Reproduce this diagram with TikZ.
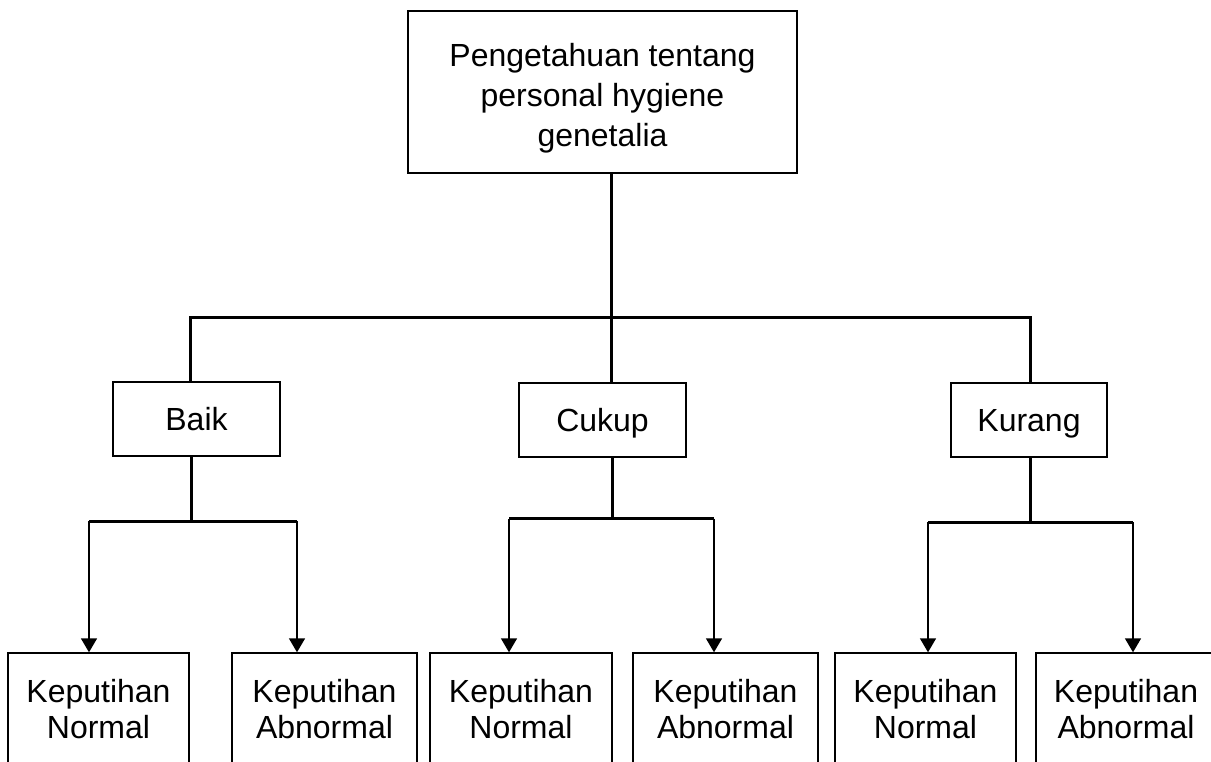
\documentclass[tikz,border=0pt]{standalone}
\usepackage{fontspec}
\setmainfont{Liberation Sans}
\usetikzlibrary{arrows.meta}
\begin{document}
\begin{tikzpicture}[x=1pt,y=-1pt,
  box/.style={draw,line width=1.4pt,inner sep=0pt,rectangle},
  txt/.style={inner sep=0pt,align=center,font=\fontsize{32}{40}\selectfont},
  midbox/.style={box,minimum height=74pt,text height=23pt,text depth=0pt,font=\fontsize{32}{40}\selectfont},
  botbox/.style={box,minimum height=113pt,align=center,font=\fontsize{32}{36}\selectfont},
  thickline/.style={line width=3pt},
  arr/.style={line width=1.6pt,-{Triangle[width=16pt,length=14pt]}}]
\clip (0,0) rectangle (1211,762);
\fill[white] (0,0) rectangle (1211,762);
% top box
\node[box,minimum width=389pt,minimum height=162pt] (top) at (602.5,92) {};
\node[txt] (toptext) at (602.5,98.6) {Pengetahuan tentang\\personal hygiene\\genetalia};
% middle boxes
\node[midbox,minimum width=167pt] (baik) at (196.5,419) {Baik};
\node[midbox,minimum width=167pt] (cukup) at (602.5,420) {Cukup};
\node[midbox,minimum width=156pt] (kurang) at (1029,420) {Kurang};
% bottom boxes
\node[botbox,minimum width=181pt] (b1) at (98.5,709.5) {Keputihan\\Normal};
\node[botbox,minimum width=185pt] (b2) at (324.5,709.5) {Keputihan\\Abnormal};
\node[botbox,minimum width=182pt] (b3) at (521,709.5) {Keputihan\\Normal};
\node[botbox,minimum width=185pt] (b4) at (725.5,709.5) {Keputihan\\Abnormal};
\node[botbox,minimum width=181pt] (b5) at (925.5,709.5) {Keputihan\\Normal};
\node[botbox,minimum width=180pt] (b6) at (1126,709.5) {Keputihan\\Abnormal};
% top connectors
\coordinate (hL) at (190.5,318);
\coordinate (hC) at (611,318);
\coordinate (hR) at (1030,318);
\draw[thickline] (top.south -| hC) -- (hC);
\draw[thickline] (baik.north -| hL) -- (hL) -- (hR) -- (kurang.north -| hR);
\draw[thickline] (hC) -- (cukup.north -| hC);
% Baik branch
\coordinate (bA) at (89,521);
\coordinate (bM) at (191,521);
\coordinate (bB) at (297,521);
\draw[thickline] (baik.south -| bM) -- (bM);
\draw[thickline] (bA) -- (bB);
\draw[arr] (bA) -- (bA |- b1.north);
\draw[arr] (bB) -- (bB |- b2.north);
% Cukup branch
\coordinate (cA) at (509,518.5);
\coordinate (cM) at (612,518.5);
\coordinate (cB) at (714,518.5);
\draw[thickline] (cukup.south -| cM) -- (cM);
\draw[thickline] (cA) -- (cB);
\draw[arr] (cA) -- (cA |- b3.north);
\draw[arr] (cB) -- (cB |- b4.north);
% Kurang branch
\coordinate (kA) at (928,522);
\coordinate (kM) at (1030,522);
\coordinate (kB) at (1133,522);
\draw[thickline] (kurang.south -| kM) -- (kM);
\draw[thickline] (kA) -- (kB);
\draw[arr] (kA) -- (kA |- b5.north);
\draw[arr] (kB) -- (kB |- b6.north);
\end{tikzpicture}
\end{document}
